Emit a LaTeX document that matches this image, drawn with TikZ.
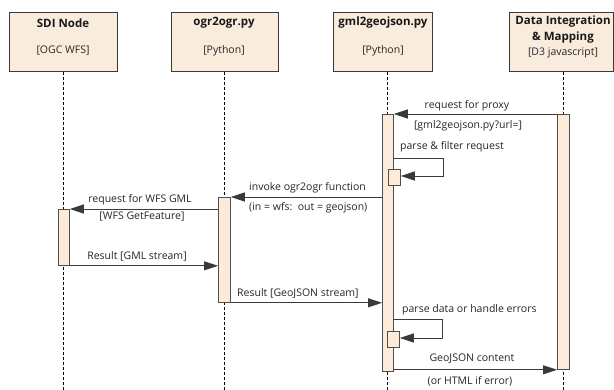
\documentclass[tikz,border=0pt]{standalone}
\usepackage{fontspec}
\setmainfont{Open Sans}
\usetikzlibrary{arrows.meta}
\definecolor{boxfill}{HTML}{F9ECDC}
\definecolor{barfill}{HTML}{FBEBD8}
\definecolor{edge}{HTML}{3A3A3A}
\tikzset{
  head/.style={draw=edge, line width=0.8pt, fill=boxfill},
  headshadow/.style={draw=edge, line width=1.8pt},
  life/.style={draw=black, dashed, dash pattern=on 3pt off 2pt, line width=0.6pt},
  actbar/.style={draw=edge!90, line width=0.8pt, fill=barfill},
  msg/.style={draw=edge, line width=0.8pt, -{Triangle[length=14pt, width=9pt]}},
  lbl/.style={font=\fontsize{10.5}{12}\selectfont, inner sep=0pt, text=black!85},
  ttl/.style={font=\fontsize{11.5}{13}\selectfont\bfseries, inner sep=0pt, text=black!90},
  sub/.style={font=\fontsize{10.5}{12}\selectfont, inner sep=0pt, text=black!85}
}
\begin{document}
\begin{tikzpicture}[x=1pt, y=-1pt]
\useasboundingbox (0,0) rectangle (614,390);
\fill[white] (0,0) rectangle (614,390);

% lifelines
\coordinate (l1t) at (63,72);  \coordinate (l1b) at (63,390);
\coordinate (l2t) at (224,72); \coordinate (l2b) at (224,390);
\coordinate (l3t) at (387,72); \coordinate (l3b) at (387,390);
\coordinate (l4t) at (563,72); \coordinate (l4b) at (563,390);
\draw[life] (l1t) -- (l1b);
\draw[life] (l2t) -- (l2b);
\draw[life] (l3t) -- (l3b);
\draw[life] (l4t) -- (l4b);

% participant headers
\foreach \xa/\xb in {9/117, 171/278, 333/432, 509/613}{
  \draw[head] (\xa,12) rectangle (\xb,71.5);
  \draw[headshadow] (\xa,71.5) -- (\xb,71.5);
}
\node[ttl] (t1) at (63,23) {SDI Node};
\node[sub] (s1) at (63,51) {[OGC WFS]};
\node[ttl] (t2) at (224,23) {ogr2ogr.py};
\node[sub] (s2) at (224,51) {[Python]};
\node[ttl] (t3) at (383,23) {gml2geojson.py};
\node[sub] (s3) at (383,51) {[Python]};
\node[ttl] (t4a) at (563,22) {Data Integration};
\node[ttl] (t4b) at (563,38) {\& Mapping};
\node[sub] (s4) at (563,53) {[D3 javascript]};

% activation bars
\node[actbar, minimum width=11pt, minimum height=257pt, inner sep=0pt, anchor=north west] (g) at (382,114) {};
\node[actbar, minimum width=12pt, minimum height=255pt, inner sep=0pt, anchor=north west] (d) at (557,114) {};
\node[actbar, minimum width=12pt, minimum height=105pt, inner sep=0pt, anchor=north west] (o) at (218,197) {};
\node[actbar, minimum width=11pt, minimum height=56pt, inner sep=0pt, anchor=north west] (s) at (58,209) {};
\node[actbar, minimum width=12pt, minimum height=16pt, inner sep=0pt, anchor=north west] (g1) at (388,169) {};
\node[actbar, minimum width=12pt, minimum height=16pt, inner sep=0pt, anchor=north west] (g2) at (387,331) {};

% request for proxy
\draw[msg] (d.north west) -- (g.north east);
\node[lbl] (m1) at (467,106) {request for proxy};
\node[lbl] (m1b) at (468,126) {[gml2geojson.py?url=]};

% parse & filter request (self call)
\coordinate (c1a) at (393,158);
\coordinate (c1b) at (443,158);
\coordinate (c1c) at (443,176);
\draw[msg] (c1a) -- (c1b) -- (c1c) -- (g1.east |- c1c);
\node[lbl, anchor=west] (m2) at (400,147) {parse \& filter request};

% invoke ogr2ogr function
\draw[msg] (g.west |- o.north) -- (o.north east);
\node[lbl, anchor=west] (m3) at (249,188) {invoke ogr2ogr function};
\node[lbl, anchor=west] (m3b) at (249,208) {(in = wfs:\ \ out = geojson)};

% request for WFS GML
\draw[msg] (o.west |- s.north) -- (s.north east);
\node[lbl] (m4) at (140,200) {request for WFS GML};
\node[lbl] (m4b) at (142,217) {[WFS GetFeature]};

% Result [GML stream]
\draw[msg] (s.south east) -- (o.west |- s.south);
\node[lbl] (m5) at (137,256) {Result [GML stream]};

% Result [GeoJSON stream]
\draw[msg] (o.south east) -- (g.west |- o.south);
\node[lbl, anchor=west] (m6) at (237,293) {Result [GeoJSON stream]};

% parse data or handle errors (self call)
\coordinate (c2a) at (393,319);
\coordinate (c2b) at (442,319);
\coordinate (c2c) at (442,338);
\draw[msg] (c2a) -- (c2b) -- (c2c) -- (g2.east |- c2c);
\node[lbl, anchor=west] (m7) at (402,310) {parse data or handle errors};

% GeoJSON content
\draw[msg] (g.east |- d.south) -- (d.south west);
\node[lbl] (m8) at (472,359) {GeoJSON content};
\node[lbl] (m8b) at (470,381) {(or HTML if error)};
\end{tikzpicture}
\end{document}
